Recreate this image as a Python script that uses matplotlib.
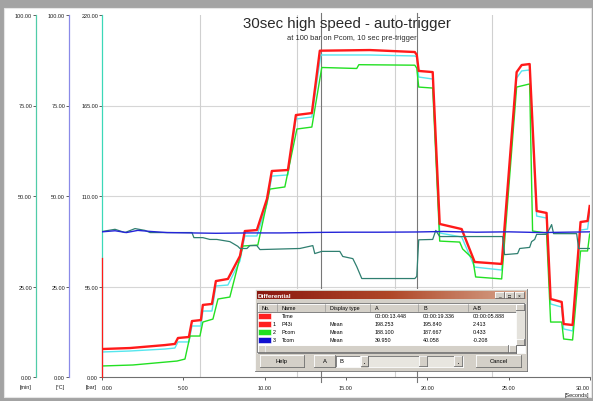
import numpy as np
import matplotlib
matplotlib.use("Agg")
import matplotlib.pyplot as plt
import matplotlib.ticker as mticker
from matplotlib.patches import Rectangle
from matplotlib.colors import LinearSegmentedColormap

plt.rcParams["font.family"] = ["Liberation Sans", "DejaVu Sans"]

W, H = 593, 402

# ── Data (time in s, pressure in bar, temp in °C) ──
red_t = [0, 1.72, 3.87, 4.48, 4.67, 5.34, 5.53, 6.08, 6.20, 6.76, 7.00, 7.74,
         8.48, 8.78, 9.52, 10.14, 10.44, 11.43, 11.92, 12.90, 13.39, 16.46,
         19.23, 19.35, 19.47, 20.33, 20.76, 22.11, 22.91, 24.57, 25.49, 25.80,
         26.29, 26.72, 27.33, 27.58, 28.26, 28.38, 28.93, 29.42, 29.85, 29.98]
red_v = [17.0, 17.6, 19.4, 20.1, 23.7, 24.3, 34.0, 34.6, 43.8, 44.4, 58.3, 59.6,
         73.5, 88.7, 89.3, 108.2, 125.2, 125.8, 159.2, 160.4, 198.3, 198.7,
         197.5, 195.8, 186.0, 185.3, 93.0, 89.9, 69.9, 68.7, 185.3, 189.6,
         190.2, 100.9, 99.7, 47.4, 45.6, 32.2, 31.6, 94.2, 94.8, 103.9]

cyan_t = [0, 1.72, 3.87, 4.48, 4.67, 5.34, 5.53, 6.08, 6.20, 6.76, 7.00, 7.74,
          8.48, 8.78, 9.52, 10.14, 10.44, 11.43, 11.92, 12.90, 13.45, 16.46,
          19.23, 19.35, 19.47, 20.33, 20.76, 22.11, 22.91, 24.57, 25.49, 25.80,
          26.29, 26.72, 27.33, 27.58, 28.26, 28.38, 28.93, 29.42, 29.85, 29.98]
cyan_v = [15.2, 15.8, 17.0, 17.6, 21.3, 21.3, 31.0, 31.0, 40.1, 40.1, 55.3, 55.9,
          70.5, 85.7, 85.7, 105.1, 122.1, 122.8, 156.8, 158.0, 195.7, 195.7,
          195.1, 194.5, 182.3, 181.1, 87.5, 85.1, 66.8, 65.0, 181.7, 186.0,
          186.6, 97.8, 96.6, 44.4, 42.5, 29.2, 28.0, 89.3, 89.9, 99.7]

pcom_t = [0, 1.90, 4.61, 5.10, 5.41, 6.02, 6.20, 6.82, 7.13, 7.86, 8.66, 9.58,
          10.32, 11.24, 11.98, 12.90, 13.51, 15.66, 15.79, 19.23, 19.35, 19.47,
          20.33, 20.76, 21.99, 22.17, 22.79, 22.97, 24.57, 25.49, 26.29, 26.47,
          27.33, 27.58, 28.26, 28.38, 28.93, 29.42, 29.85, 29.98]
pcom_v = [6.7, 7.3, 9.7, 10.9, 24.9, 24.9, 33.4, 35.2, 47.4, 48.6, 79.6, 80.2,
          114.2, 115.5, 150.7, 151.9, 188.1, 187.5, 189.8, 189.5, 187.7, 176.2,
          175.6, 82.6, 82.0, 77.8, 72.0, 60.8, 59.6, 176.2, 178.1, 88.7,
          87.5, 33.4, 33.4, 23.1, 22.5, 76.6, 76.6, 86.9]

tcom_t = [0, 0.8, 1.5, 2.2, 3.0, 4.0, 5.5, 7.0, 9.0, 11.0, 13.45, 15.0, 17.0,
          19.34, 21.0, 23.0, 25.0, 27.0, 28.5, 30.0]
tcom_v = [40.1, 40.4, 39.9, 40.5, 40.2, 39.9, 39.8, 39.7, 39.8, 39.8, 39.95, 40.0,
          40.0, 40.06, 40.2, 40.0, 40.1, 39.9, 40.0, 40.1]

temp2_t = [0, 0.80, 1.41, 2.03, 2.64, 2.95, 5.53, 5.65, 6.20, 6.63, 7.06, 7.86,
           8.05, 8.35, 8.48, 8.91, 9.09, 9.52, 9.71, 12.16, 12.96, 13.08, 13.51,
           14.62, 14.80, 15.42, 15.66, 15.97, 19.23, 19.35, 19.47, 20.33, 20.52,
           20.76, 24.45, 24.63, 24.75, 25.55, 25.68, 26.29, 26.41, 26.60, 26.72,
           27.33, 27.52, 27.64, 27.76, 29.18, 29.30, 29.98]
temp2_v = [40.2, 40.8, 39.9, 41.0, 40.5, 39.9, 39.9, 38.5, 38.5, 38.0, 38.0, 37.4,
           36.9, 36.1, 35.5, 35.5, 36.3, 36.3, 35.2, 35.5, 36.3, 34.1, 34.7,
           34.7, 33.3, 32.7, 30.5, 27.2, 27.2, 27.8, 37.9, 38.0, 40.5,
           38.8, 38.8, 38.8, 33.8, 34.1, 35.5, 35.8, 37.4, 38.0, 39.4,
           39.4, 41.0, 42.1, 39.6, 39.6, 35.5, 35.5]

cursor_a, cursor_b = 13.448, 19.336
bar_ticks = [0, 55, 110, 165, 220]
pct_ticks = [0, 25, 50, 75, 100]
time_ticks = [0, 5, 10, 15, 20, 25, 30]
grid_time = [6, 12, 18, 24]

table_header = ["No.", "Name", "Display type", "A", "B", "A-B"]
table_rows = [
    ("", "Time", "", "00:00:13.448", "00:00:19.336", "00:00:05.888"),
    ("1", "P43i", "Mean", "198.253", "195.840", "2.413"),
    ("2", "Pcom", "Mean", "188.100", "187.667", "0.433"),
    ("3", "Tcom", "Mean", "39.950", "40.058", "-0.208"),
]
row_colors = ["#ff2020", "#ff2020", "#20e020", "#1010d0"]

# ── Colors ──
RED = "#ff1a1a"
CYAN = "#55e6ee"
GREEN = "#22e022"
BLUE = "#2424d8"
TEAL = "#2f7f70"
WIN = "#d4d0c8"


def fx(x):
    return x / W


def fy(y):
    return 1 - y / H


fig = plt.figure(figsize=(W / 100, H / 100), dpi=100)
fig.patch.set_facecolor("#a3a3a3")

# background panel
bg = fig.add_axes([0, 0, 1, 1], zorder=-5)
bg.set_xlim(0, W)
bg.set_ylim(H, 0)
bg.axis("off")
bg.add_patch(Rectangle((4, 9), 587, 389, facecolor="white",
                       edgecolor="#e6e6e6", lw=0.8))

# ── main pressure axes ──
ax = fig.add_axes([fx(102), fy(378), 488 / W, 362 / H], zorder=1)
ax.set_facecolor("none")
ax.set_xlim(0, 30)
ax.set_ylim(0, 220)
for s in ("top", "right"):
    ax.spines[s].set_visible(False)
ax.spines["bottom"].set_color("#707070")
ax.spines["left"].set_color("#3cd8b8")
ax.spines["bottom"].set_linewidth(0.8)
ax.spines["left"].set_linewidth(0.9)
ax.axvline(0, ymin=0, ymax=0.33, color=RED, lw=0.9, clip_on=False, zorder=3)

ax.set_yticks(bar_ticks)
ax.set_xticks(time_ticks)
ax.yaxis.set_major_formatter(mticker.FormatStrFormatter("%.2f"))
ax.xaxis.set_major_formatter(mticker.FormatStrFormatter("%.2f"))
ax.tick_params(axis="both", labelsize=4, length=2, width=0.5,
               colors="#202020")
ax.tick_params(axis="y", pad=0.8)
ax.tick_params(axis="x", pad=3.5)
xl = ax.get_xticklabels()
xl[0].set_ha("left")
xl[-1].set_ha("right")

for yv in bar_ticks[1:-1]:
    ax.axhline(yv, color="#d6d6d6", lw=0.8, zorder=0)
for tv in grid_time:
    ax.axvline(tv, color="#d0d0d0", lw=0.8, zorder=0)
for tv in (cursor_a, cursor_b):
    ax.axvline(tv, ymin=-0.015, ymax=1.005, color="#777777", lw=0.8,
               clip_on=False, zorder=1)

ax.plot(cyan_t, cyan_v, color=CYAN, lw=1.0, zorder=2)
ax.plot(pcom_t, pcom_v, color=GREEN, lw=1.0, zorder=2)
ax.plot(red_t, red_v, color=RED, lw=1.7, zorder=3)

# ── temperature axes (°C) ──
axc = ax.twinx()
axc.set_ylim(0, 100)
axc.yaxis.tick_left()
axc.spines["left"].set_position(("outward", 33 * 0.72))
axc.spines["left"].set_color("#8a8ae8")
axc.spines["left"].set_linewidth(0.9)
for s in ("top", "right", "bottom"):
    axc.spines[s].set_visible(False)
axc.set_yticks(pct_ticks)
axc.yaxis.set_major_formatter(mticker.FormatStrFormatter("%.2f"))
axc.tick_params(axis="y", labelsize=4, length=2, width=0.5, pad=0.8,
                colors="#202020")
axc.plot(temp2_t, temp2_v, color=TEAL, lw=0.9, zorder=2)
axc.plot(tcom_t, tcom_v, color=BLUE, lw=1.0, zorder=3)

# ── [min] axis ──
axm = ax.twinx()
axm.set_ylim(0, 100)
axm.yaxis.tick_left()
axm.spines["left"].set_position(("outward", 66 * 0.72))
axm.spines["left"].set_color("#50cca8")
axm.spines["left"].set_linewidth(0.9)
for s in ("top", "right", "bottom"):
    axm.spines[s].set_visible(False)
axm.set_yticks(pct_ticks)
axm.yaxis.set_major_formatter(mticker.FormatStrFormatter("%.2f"))
axm.tick_params(axis="y", labelsize=4, length=2, width=0.5, pad=0.8,
                colors="#202020")

# units
for x, txt in ((26, "[min]"), (60, "[°C]"), (91, "[bar]")):
    fig.text(fx(x), fy(388), txt, ha="center", va="center", fontsize=4,
             color="#202020")
fig.text(fx(577), fy(396), "[Seconds]", ha="center", va="center",
         fontsize=4, color="#202020")

# titles
fig.text(fx(347), fy(24), "30sec high speed - auto-trigger", ha="center",
         va="center", fontsize=10.8, color="#2a2a2a")
fig.text(fx(352), fy(38), "at 100 bar on Pcom, 10 sec pre-trigger",
         ha="center", va="center", fontsize=5.4, color="#2a2a2a")

# ── "Differential" dialog ──
ui = fig.add_axes([0, 0, 1, 1], zorder=10)
ui.set_facecolor("none")
ui.axis("off")


def bevel(x0, y0, x1, y1, face=WIN, raised=True, lw=0.6):
    ui.add_patch(Rectangle((x0, y0), x1 - x0, y1 - y0, facecolor=face,
                           edgecolor="none"))
    hi, lo = ("white", "#6e6e6e") if raised else ("#6e6e6e", "white")
    ui.plot([x0, x1], [y0, y0], color=hi, lw=lw)
    ui.plot([x0, x0], [y0, y1], color=hi, lw=lw)
    ui.plot([x0, x1], [y1, y1], color=lo, lw=lw)
    ui.plot([x1, x1], [y0, y1], color=lo, lw=lw)


bevel(255, 290, 527, 372)
grad = LinearSegmentedColormap.from_list("tb", ["#8a1810", "#b04828", "#d8a890"])
ui.imshow(np.linspace(0, 1, 200)[None, :], extent=[256.5, 525, 300, 292],
          cmap=grad, aspect="auto", zorder=1)
ui.text(258, 296.2, "Differential", color="white", fontsize=4.6,
        fontweight="bold", va="center", ha="left", zorder=2)
for bx, glyph in ((495, "_"), (505, "□"), (515, "×")):
    bevel(bx, 293.2, bx + 8.5, 299.2)
    ui.text(bx + 4.2, 296.2, glyph, fontsize=3.5, ha="center", va="center",
            zorder=3)

# list area
bevel(256.5, 303.5, 525, 354, face="white", raised=False)
bevel(257.5, 304.5, 516, 312.5)
col_x = [262, 282, 330, 375, 423, 473]
for cx in (278, 326, 371, 419, 469):
    ui.plot([cx - 1.5, cx - 1.5], [305, 312], color="#8a8a8a", lw=0.4)
for cx, txt in zip(col_x, table_header):
    ui.text(cx, 308.6, txt, fontsize=3.9, ha="left", va="center")
row_y = [316.6, 324.6, 332.6, 340.6]
for ry, row, c in zip(row_y, table_rows, row_colors):
    ui.add_patch(Rectangle((257.5, ry - 3), 13, 6, facecolor=c,
                           edgecolor="white", lw=0.4))
    ui.text(272.5, ry, row[0], fontsize=3.9, ha="left", va="center")
    for cx, txt in zip(col_x[1:], row[1:]):
        ui.text(cx, ry, txt, fontsize=3.9, ha="left", va="center")
# scrollbars
bevel(516, 304.5, 524.5, 346, face="#e4e2dc")
bevel(516.3, 304.8, 524.2, 311)
bevel(516.3, 339.5, 524.2, 345.7)
bevel(257.5, 346, 516, 353.5, face="#e4e2dc")
bevel(257.8, 346.3, 264.5, 353.2)
bevel(264.5, 346.3, 508, 353.2)
bevel(509, 346.3, 515.7, 353.2)

# buttons
bevel(260, 356, 304, 368)
ui.text(282, 362, "Help", fontsize=4.2, ha="center", va="center")
bevel(314, 356, 335, 368)
ui.text(324.5, 362, "A", fontsize=4.2, ha="center", va="center")
bevel(336, 356.5, 360, 367.5, face="white", raised=False)
ui.text(340, 362, "B", fontsize=4.2, ha="left", va="center")
bevel(361, 357, 368, 367)
ui.text(364.5, 362, "▪", fontsize=2.5, ha="center", va="center")
bevel(368, 356.5, 463, 367.5, face="#e8e6e0", raised=False)
bevel(419, 357, 427, 367)
bevel(454, 357, 462, 367)
ui.text(458, 362, "▪", fontsize=2.5, ha="center", va="center")
bevel(476, 356, 521, 368)
ui.text(498.5, 362, "Cancel", fontsize=4.2, ha="center", va="center")

ui.set_xlim(0, W)
ui.set_ylim(H, 0)

fig.savefig("out.png", dpi=100, facecolor=fig.get_facecolor())
plt.close(fig)
